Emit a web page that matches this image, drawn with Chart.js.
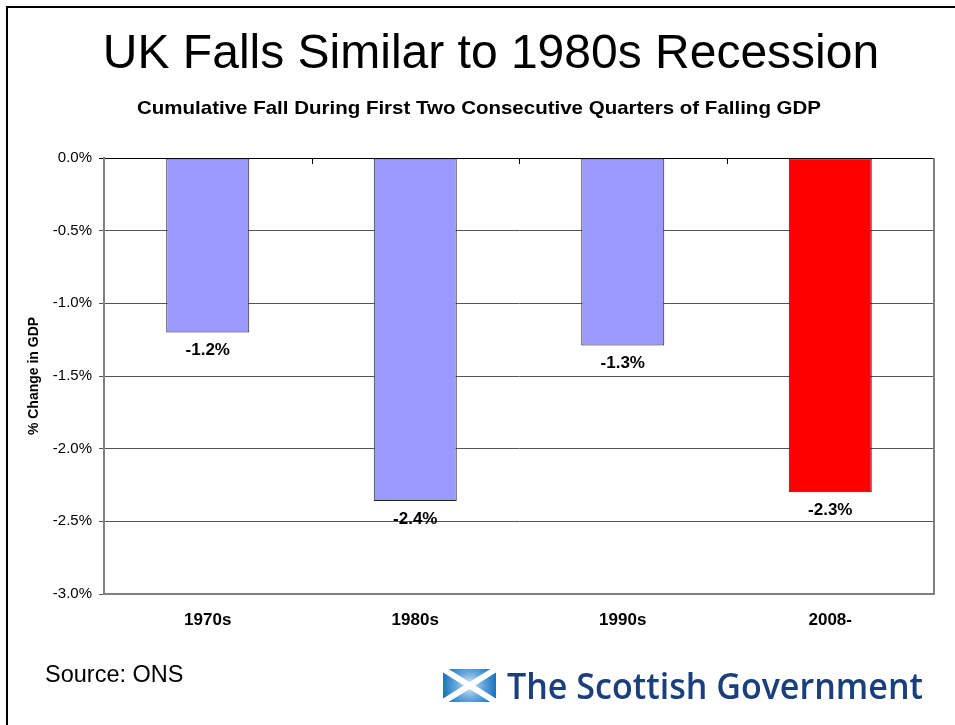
<!DOCTYPE html>
<html>
<head>
<meta charset="utf-8">
<title>UK Falls Similar to 1980s Recession</title>
<script src="https://cdn.jsdelivr.net/npm/chart.js@4.4.1/dist/chart.umd.min.js"></script>
<style>
  html, body { margin: 0; padding: 0; background: #ffffff; }
  #wrap { width: 955px; height: 725px; position: relative; }
  canvas { display: block; }
</style>
</head>
<body>
<div id="wrap"><canvas id="gdp" width="955" height="725"></canvas></div>
<script>
// Cumulative GDP fall over the first two consecutive quarters of falling GDP
const categories = ['1970s', '1980s', '1990s', '2008-'];
const gdpChange = [-1.2, -2.36, -1.29, -2.3];
const barColors = ['#9999FF', '#9999FF', '#9999FF', '#FF0000'];

const titleText = 'UK Falls Similar to 1980s Recession';
const subtitleText = 'Cumulative Fall During First Two Consecutive Quarters of Falling GDP';
const yAxisTitle = '% Change in GDP';
const sourceText = 'Source: ONS';
const logoText = 'The Scottish Government';

const SANS = '"Liberation Sans", Arial, Helvetica, sans-serif';

const pct = v => Number(v).toFixed(1) + '%';

// draw text stretched horizontally to a given width
function fitText(ctx, text, x, y, width) {
  const w = ctx.measureText(text).width;
  ctx.save();
  ctx.translate(x, y);
  ctx.scale(width / w, 1);
  ctx.fillText(text, 0, 0);
  ctx.restore();
}

// Slide frame, headings, source note and logo
const slideDecor = {
  id: 'slideDecor',
  beforeDraw(chart) {
    const ctx = chart.ctx;
    ctx.save();
    ctx.fillStyle = '#000';
    ctx.fillRect(6, 6, 949, 2);
    ctx.fillRect(6, 6, 2, 719);

    ctx.textAlign = 'center';
    ctx.textBaseline = 'alphabetic';
    ctx.font = '48px ' + SANS;
    ctx.fillText(titleText, 491, 68);
    ctx.font = 'bold 19px ' + SANS;
    fitText(ctx, subtitleText, 479, 114, 684);

    ctx.textAlign = 'left';
    ctx.font = '23.5px ' + SANS;
    ctx.fillText(sourceText, 45, 682);

    // Saltire flag
    const fx = 443, fy = 669, fw = 53, fh = 33;
    const g = ctx.createRadialGradient(fx + fw / 2, fy + fh / 2, 2, fx + fw / 2, fy + fh / 2, fw / 2);
    g.addColorStop(0, '#cfe3f4');
    g.addColorStop(0.45, '#6aa9dc');
    g.addColorStop(1, '#1e73c2');
    ctx.fillStyle = g;
    ctx.fillRect(fx, fy, fw, fh);
    ctx.strokeStyle = '#ffffff';
    ctx.lineWidth = 6;
    ctx.beginPath();
    ctx.moveTo(fx, fy); ctx.lineTo(fx + fw, fy + fh);
    ctx.moveTo(fx + fw, fy); ctx.lineTo(fx, fy + fh);
    ctx.stroke();

    // Wordmark
    ctx.fillStyle = '#1b3f7c';
    ctx.font = '600 36px "Open Sans", "Noto Sans", sans-serif';
    fitText(ctx, logoText, 507, 699, 416);
    ctx.restore();
  },
  afterDatasetsDraw(chart) {
    const ctx = chart.ctx;
    const xs = chart.scales.x, ys = chart.scales.y;
    const area = chart.chartArea;
    ctx.save();
    // right edge of the plot frame
    ctx.strokeStyle = '#808080';
    ctx.lineWidth = 2;
    ctx.beginPath();
    ctx.moveTo(area.right, area.top);
    ctx.lineTo(area.right, area.bottom);
    ctx.stroke();

    // category dividers on the zero axis
    const y0 = ys.getPixelForValue(0);
    ctx.strokeStyle = '#000';
    ctx.lineWidth = 1;
    ctx.beginPath();
    for (let i = 1; i < categories.length; i++) {
      const x = Math.round((xs.getPixelForValue(i - 1) + xs.getPixelForValue(i)) / 2) + 0.5;
      ctx.moveTo(x, y0);
      ctx.lineTo(x, y0 + 6);
    }
    ctx.stroke();

    // value labels under each bar
    ctx.fillStyle = '#000';
    ctx.font = 'bold 17px ' + SANS;
    ctx.textAlign = 'center';
    ctx.textBaseline = 'middle';
    chart.getDatasetMeta(0).data.forEach((bar, i) => {
      ctx.fillText(pct(gdpChange[i]), bar.x, bar.y + 18);
    });
    ctx.restore();
  }
};

new Chart(document.getElementById('gdp'), {
  type: 'bar',
  data: {
    labels: categories,
    datasets: [{
      data: gdpChange,
      backgroundColor: barColors,
      borderColor: '#222222',
      borderWidth: 1,
      borderSkipped: false,
      barPercentage: 0.4,
      categoryPercentage: 1.0
    }]
  },
  options: {
    responsive: false,
    animation: false,
    devicePixelRatio: 1,
    layout: { padding: { top: 158, right: 21, bottom: 0, left: 0 } },
    plugins: {
      legend: { display: false },
      tooltip: { enabled: false }
    },
    scales: {
      x: {
        grid: { display: false, drawTicks: false },
        border: { display: true, color: '#808080', width: 2 },
        ticks: {
          color: '#000',
          padding: 16,
          font: { family: SANS, size: 17, weight: 'bold' }
        },
        afterFit(scale) { scale.height = 131; }
      },
      y: {
        min: -3,
        max: 0,
        ticks: {
          stepSize: 0.5,
          color: '#000',
          padding: 7,
          font: { family: SANS, size: 15 },
          callback: v => pct(v)
        },
        grid: {
          color: c => (c.tick && c.tick.value === 0) ? '#000000' : '#555555',
          lineWidth: 1,
          tickLength: 5
        },
        border: { display: true, color: '#808080', width: 2 },
        title: {
          display: true,
          text: yAxisTitle,
          color: '#000',
          font: { family: SANS, size: 14, weight: 'bold' },
          padding: { top: 26, bottom: 0 }
        },
        afterFit(scale) { scale.width = 104; }
      }
    }
  },
  plugins: [slideDecor]
});
</script>
</body>
</html>
